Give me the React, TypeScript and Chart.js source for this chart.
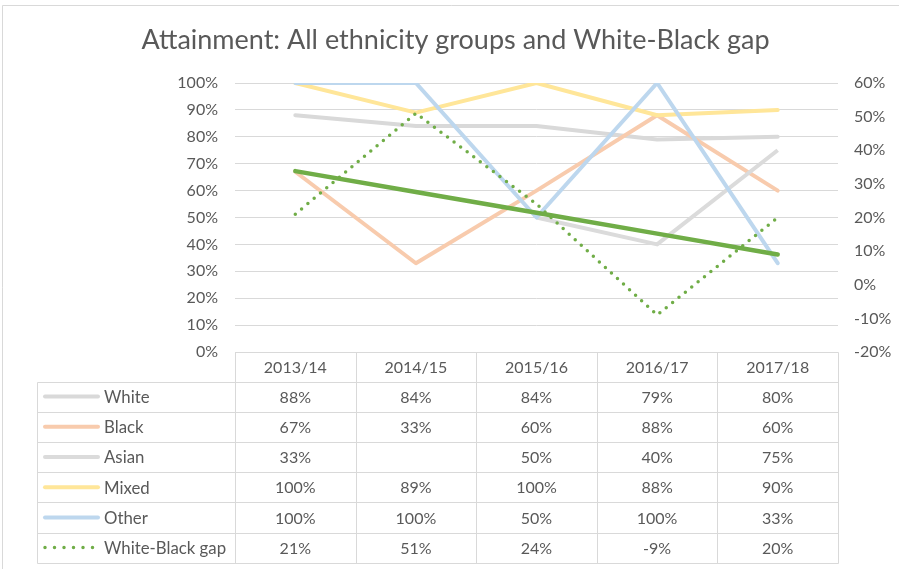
import React, { useEffect, useRef } from "react";
import { Chart, registerables } from "chart.js";

Chart.register(...registerables);

const categories = ["2013/14", "2014/15", "2015/16", "2016/17", "2017/18"];
const white = [88, 84, 84, 79, 80];
const black = [67, 33, 60, 88, 60];
const asian = [33, null, 50, 40, 75];
const mixed = [100, 89, 100, 88, 90];
const other = [100, 100, 50, 100, 33];
const gap = [21, 51, 24, -9, 20];
const gapTrend = [33.8, 27.6, 21.4, 15.2, 9.0];
const leftTicks = [0, 100, 10];
const rightTicks = [-20, 60, 10];

const FONT = "Lato, 'Liberation Sans', sans-serif";
const TEXT = "#595959";
const GRID = "#d9d9d9";

type Row = { label: string; values: (number | null)[]; color: string; dotted?: boolean };
const rows: Row[] = [
  { label: "White", values: white, color: "#d9d9d9" },
  { label: "Black", values: black, color: "#f8cbad" },
  { label: "Asian", values: asian, color: "#dbdbdb" },
  { label: "Mixed", values: mixed, color: "#ffe699" },
  { label: "Other", values: other, color: "#bdd7ee" },
  { label: "White-Black gap", values: gap, color: "#70ad47", dotted: true },
];

const tablePlugin = {
  id: "dataTable",
  beforeDraw(chart: any) {
    const ctx = chart.ctx;
    ctx.save();
    ctx.fillStyle = "#ffffff";
    ctx.fillRect(0, 0, chart.width, chart.height);
    ctx.strokeStyle = GRID;
    ctx.lineWidth = 1;
    ctx.beginPath();
    ctx.moveTo(2.5, chart.height + 2);
    ctx.lineTo(2.5, 5.5);
    ctx.lineTo(chart.width + 2, 5.5);
    ctx.stroke();
    ctx.restore();
  },
  afterDraw(chart: any) {
    const ctx = chart.ctx;
    const area = chart.chartArea;
    const n = categories.length;
    const colW = (area.right - area.left) / n;
    const top = Math.round(area.bottom) + 0.5;
    const headerH = 29;
    const rowH = 30.2;
    const tableLeft = 37.5;
    const bottom = top + headerH + rows.length * rowH;
    ctx.save();
    ctx.strokeStyle = GRID;
    ctx.lineWidth = 1;
    ctx.beginPath();
    ctx.moveTo(Math.round(area.left) + 0.5, top);
    ctx.lineTo(Math.round(area.right) + 0.5, top);
    for (let i = 0; i <= rows.length; i++) {
      const y = Math.round(top + headerH + i * rowH) + 0.5;
      ctx.moveTo(tableLeft, y);
      ctx.lineTo(Math.round(area.right) + 0.5, y);
    }
    for (let i = 0; i <= n; i++) {
      const x = Math.round(area.left + i * colW) + 0.5;
      ctx.moveTo(x, top);
      ctx.lineTo(x, Math.round(bottom) + 0.5);
    }
    ctx.moveTo(tableLeft, Math.round(top + headerH) + 0.5);
    ctx.lineTo(tableLeft, Math.round(bottom) + 0.5);
    ctx.stroke();

    ctx.fillStyle = TEXT;
    ctx.font = `16px ${FONT}`;
    ctx.textBaseline = "middle";
    ctx.textAlign = "center";
    const xs = chart.scales.x;
    categories.forEach((c, i) => {
      ctx.fillText(c, xs.getPixelForValue(i), top + headerH / 2 + 1);
    });
    rows.forEach((r, ri) => {
      const cy = top + headerH + ri * rowH + rowH / 2 + 1;
      ctx.textAlign = "center";
      ctx.fillStyle = TEXT;
      ctx.font = `16px ${FONT}`;
      r.values.forEach((v, i) => {
        if (v === null) return;
        ctx.fillText(`${v}%`, xs.getPixelForValue(i), cy);
      });
      ctx.save();
      ctx.strokeStyle = r.color;
      ctx.lineCap = "round";
      ctx.beginPath();
      if (r.dotted) {
        ctx.lineWidth = 3.5;
        ctx.setLineDash([0, 9.5]);
        ctx.moveTo(45, cy - 1);
        ctx.lineTo(100, cy - 1);
      } else {
        ctx.lineWidth = 4;
        ctx.moveTo(45, cy - 1);
        ctx.lineTo(98, cy - 1);
      }
      ctx.stroke();
      ctx.restore();
      ctx.textAlign = "left";
      ctx.fillStyle = TEXT;
      ctx.font = `16.8px ${FONT}`;
      ctx.fillText(r.label, 104, cy);
    });
    ctx.restore();
  },
};

export default function App() {
  const ref = useRef<HTMLCanvasElement | null>(null);
  useEffect(() => {
    if (!ref.current) return;
    const lineDs = (label: string, data: (number | null)[], color: string, order: number, axis = "y") => ({
      label,
      data,
      borderColor: color,
      backgroundColor: color,
      borderWidth: 4,
      pointRadius: 0,
      pointHoverRadius: 0,
      borderCapStyle: "round" as const,
      borderJoinStyle: "round" as const,
      tension: 0,
      spanGaps: false,
      fill: false,
      order,
      yAxisID: axis,
    });
    const chart = new Chart(ref.current, {
      type: "line",
      data: {
        labels: categories,
        datasets: [
          lineDs("White", white, rows[0].color, 7),
          lineDs("Black", black, rows[1].color, 6),
          { ...lineDs("Asian", asian, rows[2].color, 5), borderCapStyle: "butt" as const },
          lineDs("Mixed", mixed, rows[3].color, 4),
          lineDs("Other", other, rows[4].color, 3),
          { ...lineDs("White-Black gap", gap, "#70ad47", 2, "y1"), borderWidth: 3.5, borderDash: [0, 8.2] },
          { ...lineDs("Linear (White-Black gap)", gapTrend, "#70ad47", 1, "y1"), borderWidth: 4.5 },
        ],
      },
      options: {
        responsive: false,
        animation: false,
        events: [],
        layout: { padding: { top: 0, bottom: 217, left: 12, right: 0 } },
        plugins: {
          legend: { display: false },
          tooltip: { enabled: false },
          title: {
            display: true,
            text: "Attainment: All ethnicity groups and White-Black gap",
            color: TEXT,
            font: { family: FONT, size: 27, weight: "normal", lineHeight: "26px" },
            padding: { top: 27, bottom: 30 },
          },
        },
        scales: {
          x: {
            type: "category",
            display: false,
            offset: true,
          },
          y: {
            position: "left",
            min: leftTicks[0],
            max: leftTicks[1],
            ticks: {
              stepSize: leftTicks[2],
              color: TEXT,
              font: { family: FONT, size: 16 },
              padding: 17,
              callback: (v: any) => `${v}%`,
            },
            grid: { color: GRID, lineWidth: 1, drawTicks: false },
            border: { display: false },
            afterFit: (s: any) => {
              s.width = 223;
            },
          },
          y1: {
            position: "right",
            min: rightTicks[0],
            max: rightTicks[1],
            ticks: {
              stepSize: rightTicks[2],
              color: TEXT,
              font: { family: FONT, size: 16 },
              padding: 16,
              callback: (v: any) => `${v}%`,
            },
            grid: { display: false, drawTicks: false },
            border: { display: false },
            afterFit: (s: any) => {
              s.width = 61;
            },
          },
        },
      },
      plugins: [tablePlugin],
    });
    return () => chart.destroy();
  }, []);
  return (
    <div style={{ position: "fixed", left: 0, top: 0, width: 899, height: 569, background: "#fff" }}>
      <canvas ref={ref} width={899} height={569} style={{ display: "block", width: 899, height: 569 }} />
    </div>
  );
}
